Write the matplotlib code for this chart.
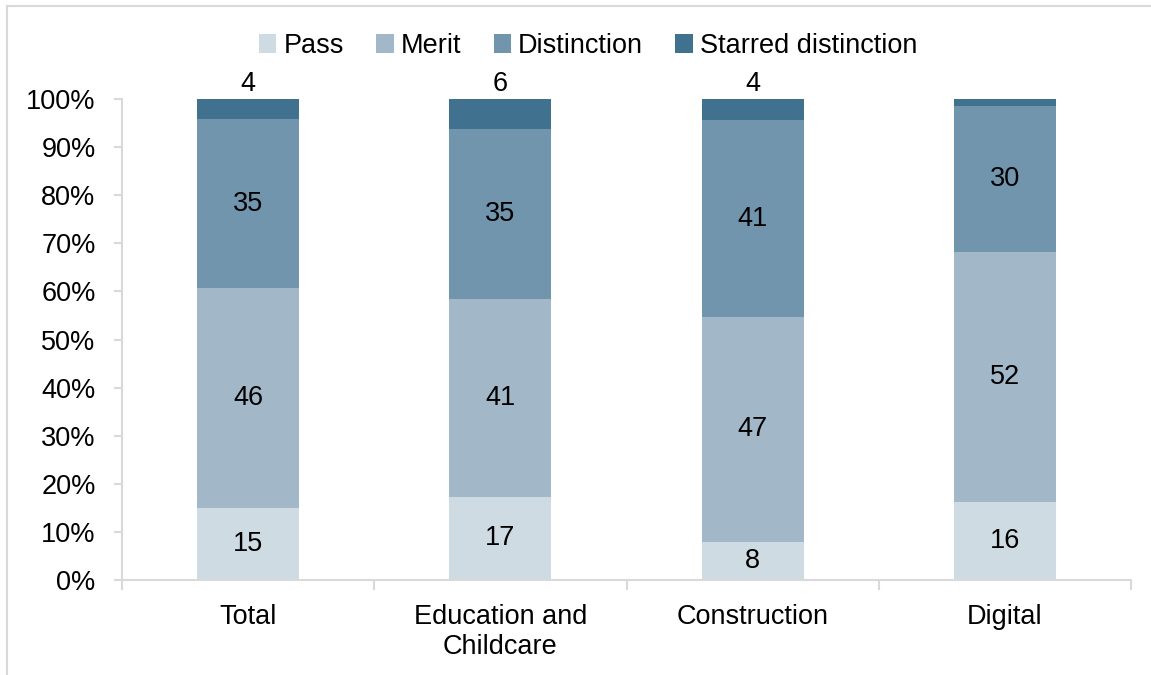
import matplotlib
matplotlib.use("Agg")
import matplotlib.pyplot as plt
from matplotlib.lines import Line2D
from matplotlib.ticker import PercentFormatter
import numpy as np

plt.rcParams['font.family'] = ['Liberation Sans', 'DejaVu Sans']

categories = ["Total", "Education and\nChildcare", "Construction", "Digital"]
series_names = ["Pass", "Merit", "Distinction", "Starred distinction"]
pass_vals = [15.0, 17.3, 7.9, 16.2]
merit_vals = [45.7, 41.1, 46.8, 52.0]
distinction_vals = [35.1, 35.4, 40.9, 30.4]
starred_vals = [4.2, 6.2, 4.4, 1.4]

colors = ["#CFDBE3", "#A2B8C8", "#7095AD", "#40718F"]
GRID = "#D9D9D9"
FS = 19.5

fig = plt.figure(figsize=(11.51, 6.75), dpi=100)
ax = fig.add_axes([122 / 1151, 1 - 580 / 675, (1131 - 122) / 1151, (580 - 99) / 675])

x = np.arange(len(categories))
width = 0.405
bottom = np.zeros(len(categories))
all_series = [pass_vals, merit_vals, distinction_vals, starred_vals]

for name, vals, col in zip(series_names, all_series, colors):
    vals = np.array(vals)
    ax.bar(x, vals, width, bottom=bottom, color=col, label=name, linewidth=0)
    for i, v in enumerate(vals):
        if name == "Starred distinction":
            # small top segments are labelled above the bar, tiny ones not at all
            if v >= 2:
                ax.text(x[i], bottom[i] + v + 0.5, f"{round(v):d}", ha="center",
                        va="bottom", fontsize=FS)
        else:
            ax.text(x[i], bottom[i] + v / 2, f"{round(v):d}", ha="center",
                    va="center", fontsize=FS)
    bottom += vals

ax.set_xlim(-0.5, len(categories) - 0.5)
ax.set_ylim(0, 100)
ax.set_yticks(np.arange(0, 101, 10))
ax.yaxis.set_major_formatter(PercentFormatter(100, decimals=0))
ax.set_xticks(x)
ax.set_xticklabels(categories)
ax.set_xticks(np.arange(-0.5, len(categories), 1), minor=True)

for s in ["top", "right"]:
    ax.spines[s].set_visible(False)
for s in ["left", "bottom"]:
    ax.spines[s].set_color(GRID)
    ax.spines[s].set_linewidth(1.5)

ax.tick_params(axis="y", length=6, width=1.5, color=GRID, labelsize=FS, pad=13)
ax.tick_params(axis="x", which="major", length=0, labelsize=FS, pad=17)
ax.tick_params(axis="x", which="minor", length=7, width=1.5, color=GRID)

ax.legend(loc="center", bbox_to_anchor=(588 / 1151, 1 - 46 / 675),
          bbox_transform=fig.transFigure, ncol=4, frameon=False, fontsize=FS,
          handlelength=0.65, handleheight=0.65, handletextpad=0.25,
          columnspacing=1.2, borderpad=0)

# light frame lines along top and left of the image
fig.add_artist(Line2D([7 / 1151, 1], [1 - 6 / 675, 1 - 6 / 675],
                      transform=fig.transFigure, color=GRID, lw=1.5))
fig.add_artist(Line2D([7 / 1151, 7 / 1151], [0, 1 - 6 / 675],
                      transform=fig.transFigure, color=GRID, lw=1.5))

fig.savefig("out.png", dpi=100)
